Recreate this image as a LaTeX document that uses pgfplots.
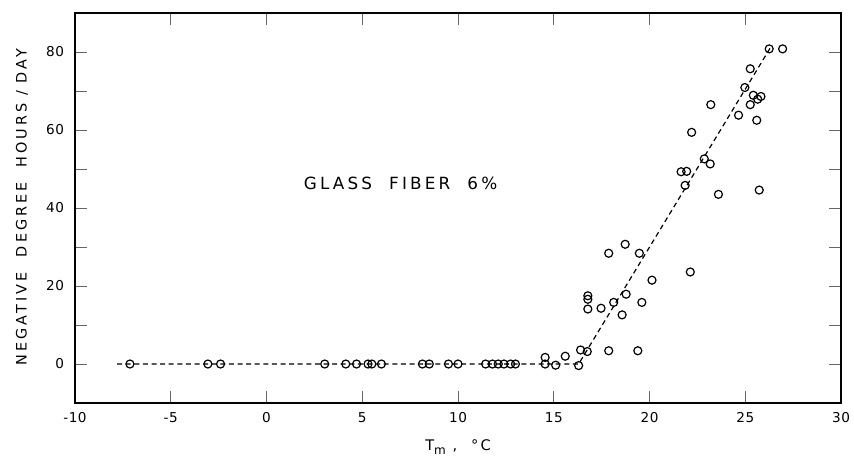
\documentclass[border=0pt]{standalone}
\usepackage{fontspec}
\setmainfont{DejaVu Sans}
\newfontfamily\spaced[LetterSpace=15]{DejaVu Sans}
\newfontfamily\spacedy[LetterSpace=21]{DejaVu Sans}
\newfontfamily\spacedg[LetterSpace=19]{DejaVu Sans}
\newfontfamily\tickf[LetterSpace=4]{DejaVu Sans}
\usepackage{pgfplots}
\pgfplotsset{compat=1.18}
\begin{document}
\begin{tikzpicture}
\begin{axis}[
 scale only axis, width=383pt, height=195pt,
 xmin=-10, xmax=30, ymin=-10, ymax=90,
 axis line style={line width=0.9pt},
 xtick={-10,-5,...,30}, xticklabels={-10,-5,0,5,10,15,20,25,30},
 ytick={0,10,...,80}, yticklabels={0,,20,,40,,60,,80},
 tick align=inside, tick pos=both,
 major tick length=6pt,
 tick style={line width=0.5pt, black!60},
 ticklabel style={font=\fontsize{6.8}{8}\selectfont\tickf},
 xticklabel style={yshift=-1pt},
 yticklabel style={xshift=-2pt},
 every axis y label/.style={at={(axis description cs:0,0.5)}, xshift=-26.5pt, yshift=0.5pt, anchor=center, rotate=90, font=\fontsize{7.2}{8}\selectfont\spacedy},
 every axis x label/.style={at={(axis description cs:0.5,0)}, yshift=-22pt, anchor=center, font=\fontsize{7.3}{8}\selectfont\spaced},
 ylabel={NEGATIVE\ \ DEGREE\ \ HOURS / DAY},
 xlabel={T\raisebox{-2pt}{\fontsize{6}{6}\selectfont m}\ ,\ \ °C},
 clip=false,
]
\addplot[dash pattern=on 2.5pt off 1.8pt, line width=0.6pt] coordinates {(-7.8,0) (16.3,0) (26.3,81)};
\addplot[only marks, mark=o, mark size=2pt, mark options={line width=0.6pt, fill=white}] coordinates {
(-7.13,0) (-3.06,0) (-2.4,0) (3.04,0) (4.14,0) (4.7,0) (5.3,0) (5.5,0) (6.0,0)
(8.14,0) (8.5,0) (9.5,0) (10.0,0) (11.44,0) (11.8,0) (12.1,0) (12.4,0) (12.75,0) (13.0,0)
(14.55,0) (15.1,-0.3) (16.3,-0.4)
(14.55,1.7) (15.6,2.0) (16.4,3.6) (16.75,3.2) (16.78,17.5) (16.78,16.6) (16.78,14.1)
(17.47,14.3) (17.87,28.4) (17.87,3.4) (18.13,15.8) (18.57,12.6) (18.73,30.7) (18.78,17.9)
(19.39,3.4) (19.47,28.4) (19.6,15.8) (20.13,21.5) (22.13,23.6)
(21.65,49.3) (21.94,49.4) (21.86,45.8) (22.2,59.4) (22.86,52.6) (23.17,51.3) (23.2,66.5)
(23.6,43.5) (24.65,63.8) (24.98,70.9) (25.26,75.7) (25.26,66.5) (25.42,68.9) (25.65,67.9)
(25.82,68.6) (25.6,62.5) (25.73,44.6) (26.25,80.8) (26.95,80.8)
};
\node[font=\fontsize{8.4}{9}\selectfont\spacedg] at (axis cs:7,46.3) {GLASS\ \ FIBER\ \ 6\%};
\coordinate (SW) at (rel axis cs:0,0);
\coordinate (NE) at (rel axis cs:1,1);
\end{axis}
\pgfresetboundingbox
\useasboundingbox ([xshift=-37.5pt,yshift=-28.5pt]SW) rectangle ([xshift=6.5pt,yshift=6.5pt]NE);
\end{tikzpicture}
\end{document}
